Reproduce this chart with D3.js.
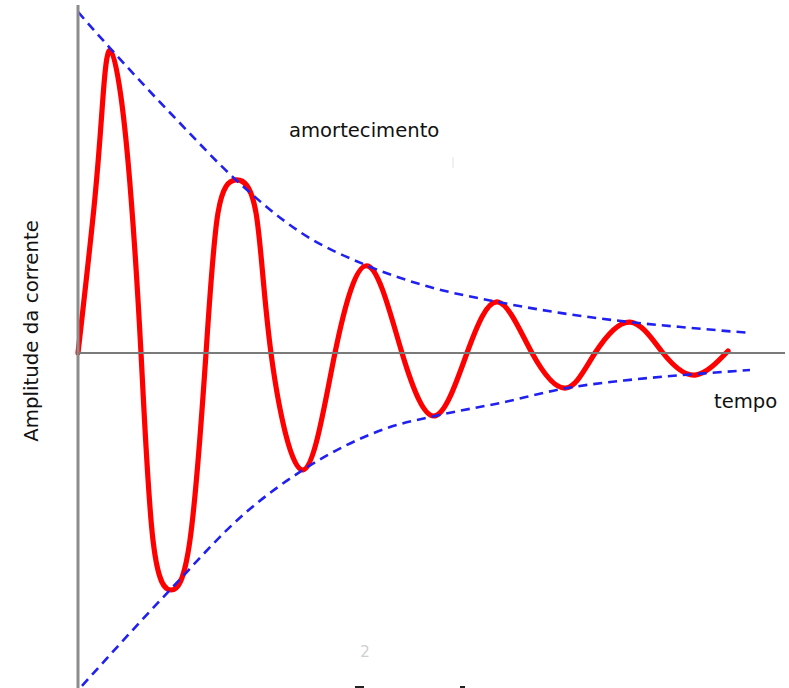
<!DOCTYPE html>
<html>
<head>
<meta charset="utf-8">
<script src="https://cdn.jsdelivr.net/npm/d3@7"></script>
<style>
  html, body { margin: 0; padding: 0; background: #ffffff; }
  svg { display: block; }
</style>
</head>
<body>
<svg id="chart" width="789" height="688"></svg>
<script>
// ---- Data (tempo, amplitude) ----
const currentT = [0.000,0.243,0.357,0.457,0.614,0.757,0.900,1.071,1.329,1.600,1.829,2.000,2.257,2.543,2.757,3.214,3.671,4.143,4.629,5.100,5.557,6.000,6.486,6.971,7.386,7.886,8.357,8.814,9.286];
const currentA = [0.000,0.459,0.753,0.891,0.753,0.459,0.000,-0.550,-0.697,-0.550,0.000,0.412,0.509,0.412,0.000,-0.344,0.000,0.256,0.000,-0.185,0.000,0.150,0.000,-0.103,0.000,0.091,0.000,-0.065,0.006];

const upperT = [0.000,0.457,1.429,2.257,3.171,4.143,5.029,6.000,6.886,7.886,8.743,9.600];
const upperA = [1.003,0.897,0.682,0.509,0.356,0.256,0.194,0.150,0.118,0.091,0.074,0.059];

const lowerT = [0.057,1.314,2.386,3.214,4.414,5.100,6.029,6.986,7.886,8.814,9.600];
const lowerA = [-0.979,-0.697,-0.471,-0.344,-0.221,-0.185,-0.147,-0.103,-0.079,-0.062,-0.050];

const labelY = "Amplitude da corrente";
const labelX = "tempo";
const labelEnvelope = "amortecimento";

// ---- Layout ----
const svg = d3.select("#chart");
const x = d3.scaleLinear().domain([0, 10.1]).range([78, 785]);
const y = d3.scaleLinear().domain([-1, 1]).range([693, 13]);

const zip = (ts, as) => ts.map((t, i) => ({ t, a: as[i] }));

const line = d3.line()
  .x(d => x(d.t))
  .y(d => y(d.a))
  .curve(d3.curveNatural);

const envLine = d3.line()
  .x(d => x(d.t))
  .y(d => y(d.a))
  .curve(d3.curveMonotoneX);

// red current
svg.append("path")
  .datum(zip(currentT, currentA))
  .attr("d", line)
  .attr("fill", "none")
  .attr("stroke", "#ff0000")
  .attr("stroke-width", 5.2)
  .attr("stroke-linecap", "round")
  .attr("stroke-linejoin", "round");

// envelopes
[zip(upperT, upperA), zip(lowerT, lowerA)].forEach(d => {
  svg.append("path")
    .datum(d)
    .attr("d", envLine)
    .attr("fill", "none")
    .attr("stroke", "#2020f0")
    .attr("stroke-width", 2.6)
    .attr("stroke-dasharray", "9,6");
});

// axes
svg.append("line")
  .attr("x1", x(0)).attr("x2", x(0))
  .attr("y1", 5).attr("y2", 688)
  .attr("stroke", "#8c8c8c").attr("stroke-width", 3);
svg.append("line")
  .attr("x1", x(0)).attr("x2", x(10.1))
  .attr("y1", y(0)).attr("y2", y(0))
  .attr("stroke", "#7a7a7a").attr("stroke-width", 2);

// texts
const font = "'DejaVu Sans', Verdana, sans-serif";
svg.append("text")
  .attr("x", 289).attr("y", 137)
  .attr("font-family", font).attr("font-size", 19.6)
  .attr("fill", "#111")
  .text(labelEnvelope);

svg.append("text")
  .attr("x", 714).attr("y", 408)
  .attr("font-family", font).attr("font-size", 19.6)
  .attr("fill", "#111")
  .text(labelX);

svg.append("text")
  .attr("transform", "translate(38,331) rotate(-90)")
  .attr("text-anchor", "middle")
  .attr("font-family", font).attr("font-size", 19.8)
  .attr("fill", "#111")
  .text(labelY);

svg.append("text")
  .attr("x", 365).attr("y", 657)
  .attr("text-anchor", "middle")
  .attr("font-family", font).attr("font-size", 15)
  .attr("fill", "#cfcfcf")
  .text("2");

// faint stray marks
svg.append("line")
  .attr("x1", 453).attr("x2", 453).attr("y1", 157).attr("y2", 168)
  .attr("stroke", "#e2e2e2").attr("stroke-width", 1);
svg.append("line")
  .attr("x1", 355).attr("x2", 364).attr("y1", 687).attr("y2", 687)
  .attr("stroke", "#222").attr("stroke-width", 2);
svg.append("line")
  .attr("x1", 460).attr("x2", 465).attr("y1", 687).attr("y2", 687)
  .attr("stroke", "#222").attr("stroke-width", 2);
</script>
</body>
</html>
